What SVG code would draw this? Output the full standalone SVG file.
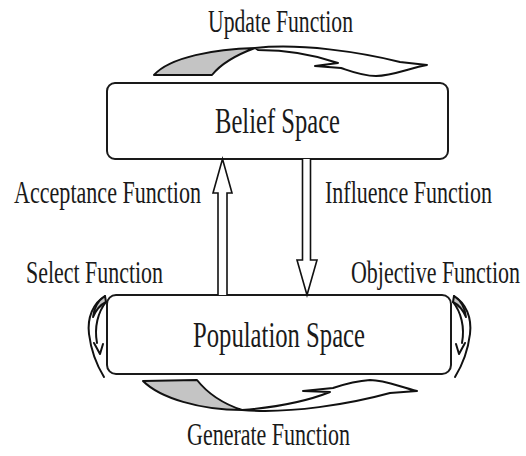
<svg xmlns="http://www.w3.org/2000/svg" width="526" height="456" viewBox="0 0 526 456">
<style>
.lbl{font-family:"Liberation Serif","Times New Roman",serif;font-size:22px;fill:#1a1a1a}
.big{font-family:"Liberation Serif","Times New Roman",serif;font-size:24.7px;fill:#1a1a1a}
.box{fill:#fff;stroke:#1a1a1a;stroke-width:2}
.rib{fill:none;stroke:#111;stroke-width:2;stroke-linejoin:round;stroke-linecap:round}
.ribf{fill:#fff;stroke:#111;stroke-width:2;stroke-linejoin:round}
.gray{fill:#c4c4c4;stroke:#111;stroke-width:2;stroke-linejoin:round}
.arr{fill:#fff;stroke:#111;stroke-width:1.6;stroke-linejoin:miter}
</style>
<rect width="526" height="456" fill="#fff"/>

<g id="belief-space">
<rect class="box" x="107" y="83" width="341" height="76" rx="8"/>
<text class="big" transform="translate(215,133) scale(1,1.46)" textLength="125" lengthAdjust="spacingAndGlyphs">Belief Space</text>
</g>

<g id="population-space">
<rect class="box" x="107" y="295" width="344" height="79" rx="9"/>
<text class="big" transform="translate(193,347) scale(1,1.46)" textLength="172" lengthAdjust="spacingAndGlyphs">Population Space</text>
</g>

<g id="connectors">
<path class="arr" d="M218,295 L218,193 L213,193 L222.5,159 L232,193 L227,193 L227,295"/>
<path class="arr" d="M302.5,159 L302.5,260 L297,260 L307,295 L317,260 L310.5,260 L310.5,159"/>

<g id="update-arrow">
<path class="ribf" d="M255,48 C300,43 360,52 400,62 L427,65 C410,68 392,76 376,76 C362,76 350,71 341,68 L315,66 L338,63 C315,55 290,50 258,50 Z"/>
<path class="gray" d="M154,75 C170,57 215,49 255,48 C236,55 220,65 212,75 Z"/>
</g>

<g id="generate-arrow">
<path class="ribf" d="M242,410 C290,414 350,404 390,393 L417,391 C400,387 385,380 370,380 C355,381 342,385 333,388 L303,391 L330,392 C310,400 280,407 242,410 Z"/>
<path class="gray" d="M143,381 L197,380 C208,394 224,404 242,410 C200,410 160,398 143,381 Z"/>
</g>

<g id="select-arrow">
<path class="rib" d="M105,296 C93,303 87,318 89,334 C91,350 96,364 104,377"/>
<path class="gray" d="M105,296 C99,300 94,307 93,317 C96,310 100,305 106,302 Z"/>
<path class="rib" d="M106,302 C98,312 94,327 97,343"/>
<path class="rib" d="M94,343 L100,354 L103,344"/>
</g>

<g id="objective-arrow" transform="translate(559,0) scale(-1,1)">
<path class="rib" d="M105,296 C93,303 87,318 89,334 C91,350 96,364 104,377"/>
<path class="gray" d="M105,296 C99,300 94,307 93,317 C96,310 100,305 106,302 Z"/>
<path class="rib" d="M106,302 C98,312 94,327 97,343"/>
<path class="rib" d="M94,343 L100,354 L103,344"/>
</g>
</g>

<g id="labels">
<text class="lbl" transform="translate(208,32) scale(1,1.41)" textLength="145" lengthAdjust="spacingAndGlyphs">Update Function</text>
<text class="lbl" transform="translate(14,203) scale(1,1.41)" textLength="187" lengthAdjust="spacingAndGlyphs">Acceptance Function</text>
<text class="lbl" transform="translate(325,203) scale(1,1.41)" textLength="167" lengthAdjust="spacingAndGlyphs">Influence Function</text>
<text class="lbl" transform="translate(26,283) scale(1,1.41)" textLength="137" lengthAdjust="spacingAndGlyphs">Select Function</text>
<text class="lbl" transform="translate(351,283) scale(1,1.41)" textLength="169" lengthAdjust="spacingAndGlyphs">Objective Function</text>
<text class="lbl" transform="translate(187,445) scale(1,1.41)" textLength="163" lengthAdjust="spacingAndGlyphs">Generate Function</text>
</g>
</svg>
